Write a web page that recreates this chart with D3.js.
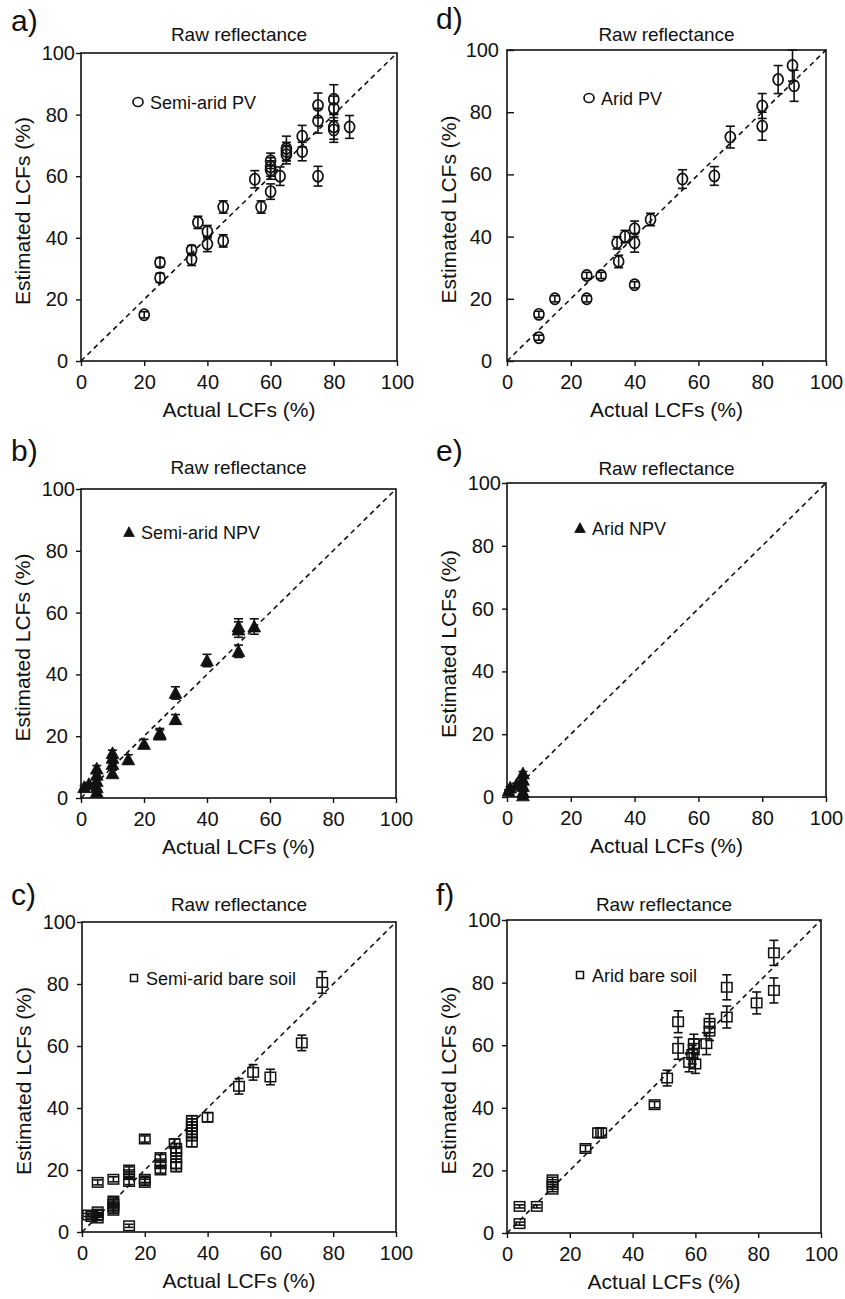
<!DOCTYPE html>
<html>
<head>
<meta charset="utf-8">
<script src="https://cdn.jsdelivr.net/npm/d3@7"></script>
<style>
  html, body { margin: 0; padding: 0; background: #fff; }
  svg { display: block; }
  text { font-family: "Liberation Sans", Arial, Helvetica, sans-serif; fill: #111; }
</style>
</head>
<body>
<svg id="chart" width="845" height="1299"></svg>
<script>
// ---------------- DATA ----------------
const tickValues = [0, 20, 40, 60, 80, 100];
const tickLabels = ["0", "20", "40", "60", "80", "100"];
const panelLetters = ["a)", "b)", "c)", "d)", "e)", "f)"];
const panelTitle = "Raw reflectance";
const xAxisTitle = "Actual LCFs (%)";
const yAxisTitle = "Estimated LCFs (%)";
const legendLabels = ["Semi-arid PV", "Semi-arid NPV", "Semi-arid bare soil", "Arid PV", "Arid NPV", "Arid bare soil"];

// a) Semi-arid PV
const aActual = [20, 25, 25, 35, 35, 37, 40, 40, 45, 45, 55, 57, 60, 60, 60, 60, 63, 65, 65, 65, 70, 70, 75, 75, 75, 80, 80, 80, 80, 85];
const aEst    = [15, 32, 27, 36, 33, 45, 42, 38, 50, 39, 59, 50, 55, 65, 63, 62, 60, 69, 68, 67, 73, 68, 83, 78, 60, 85, 82, 76, 75, 76];
const aErr    = [1, 1.5, 1.5, 1.5, 2, 2, 2, 2.5, 2, 2, 2.8, 2, 2.5, 2.5, 3, 3, 3, 4, 3, 3, 3.5, 3, 4, 4, 3.2, 4.7, 4, 4, 4, 3.7];

// b) Semi-arid NPV
const bActual = [1, 2.5, 5, 5, 5, 5, 5, 10, 10, 10, 10, 15, 20, 25, 25, 30, 30, 40, 50, 50, 50, 55];
const bEst    = [3.5, 4.5, 2, 3.5, 5.5, 7.5, 9.5, 8, 11, 13, 14.5, 12.5, 17.5, 20.5, 21, 25.5, 34, 44.5, 47.5, 54.5, 55.5, 55.5];
const bErr    = [0.5, 0.5, 0.5, 0.8, 0.8, 1, 1, 1, 1, 1, 1, 1.5, 1.5, 1.5, 1.5, 1.5, 2, 2, 2, 2.5, 2.5, 2.5];

// c) Semi-arid bare soil
const cActual = [2, 3, 5, 5, 5, 5, 10, 10, 10, 10, 10, 15, 15, 15, 15, 20, 20, 20, 25, 25, 25, 29.5, 30, 30, 30, 30, 30, 35, 35, 35, 35, 35, 35, 35, 40, 50, 54.5, 60, 70, 76.5];
const cEst    = [5.5, 5, 16, 6.5, 5.5, 4.5, 17, 10, 9, 8, 7, 20, 18.5, 16.3, 2, 30, 17, 16, 24, 22, 20, 28.5, 27, 26, 24, 22, 21, 36, 35, 34, 33, 32, 31, 29, 37, 47, 51.5, 50, 61, 80.5];
const cErr    = [0.5, 0.5, 0.8, 0.8, 0.8, 0.8, 0.8, 1, 1, 1, 1, 1, 1, 1, 0.5, 1, 1, 1, 1, 1, 1, 1.5, 1.5, 1.5, 1.5, 1.5, 1.5, 1.5, 1.5, 1.5, 1.5, 1.5, 1.5, 1.5, 1.5, 2.5, 2.5, 2.5, 2.5, 3.5];

// d) Arid PV
const dActual = [10, 10, 15, 25, 25, 29.5, 35, 34.5, 37, 40, 40, 40, 45, 55, 65, 70, 80, 80, 85, 89.5, 90];
const dEst    = [7.5, 15, 20, 20, 27.5, 27.5, 32, 38, 40, 42.5, 38, 24.5, 45.5, 58.5, 59.5, 72, 82, 75.5, 90.5, 95, 88.5];
const dErr    = [0.8, 1, 1, 1, 1, 1, 2, 2, 2, 2.5, 3, 1, 2, 3, 3, 3.5, 4, 4.5, 4.5, 5, 5];

// e) Arid NPV
const eActual = [0.5, 1, 3, 4, 5, 5, 5, 5, 5];
const eEst    = [2, 3, 4, 4, 7.5, 5.5, 3.5, 1.5, 0.5];
const eErr    = [0.3, 0.3, 0.4, 0.4, 0.6, 0.5, 0.5, 0.4, 0.3];

// f) Arid bare soil
const fActual = [4, 4, 9.5, 14.5, 14.5, 14.5, 25, 29, 30, 47, 51, 54.5, 54.5, 58, 59, 59.5, 59.5, 60, 63.5, 64.5, 64.5, 70, 70, 79.5, 85, 85];
const fEst    = [3, 8.5, 8.5, 17, 15.5, 14, 27, 32, 32, 41, 49.5, 67.5, 59, 54.5, 57, 59, 60.5, 54, 60.5, 67, 64.5, 78.5, 69, 73.5, 89.5, 77.5];
const fErr    = [0.5, 0.5, 0.5, 0.8, 0.8, 0.8, 1, 1.5, 1.5, 1, 2.5, 3.5, 3.5, 3, 3, 3, 3, 3, 3.5, 3, 3, 4, 3.5, 3.5, 4, 4];

// ---------------- LAYOUT ----------------
const panels = [
  { letter: panelLetters[0], legend: legendLabels[0], shape: "circle",   xs: aActual, ys: aEst, es: aErr,
    box: [81, 397, 53, 361], letterPos: [11, 31], titleY: 41, legendPos: [138, 102], yTickIn: false },
  { letter: panelLetters[1], legend: legendLabels[1], shape: "triangle", xs: bActual, ys: bEst, es: bErr,
    box: [81, 396, 489, 798], letterPos: [11, 461], titleY: 474, legendPos: [129, 532], yTickIn: false },
  { letter: panelLetters[2], legend: legendLabels[2], shape: "square",   xs: cActual, ys: cEst, es: cErr,
    box: [82, 396, 922, 1232], letterPos: [11, 905], titleY: 911, legendPos: [134, 978], yTickIn: false },
  { letter: panelLetters[3], legend: legendLabels[3], shape: "circle",   xs: dActual, ys: dEst, es: dErr,
    box: [507, 826, 50, 361], letterPos: [436, 29], titleY: 41, legendPos: [589, 98], yTickIn: true },
  { letter: panelLetters[4], legend: legendLabels[4], shape: "triangle", xs: eActual, ys: eEst, es: eErr,
    box: [507, 826, 483, 797], letterPos: [436, 461], titleY: 475, legendPos: [580, 528], yTickIn: false },
  { letter: panelLetters[5], legend: legendLabels[5], shape: "square",   xs: fActual, ys: fEst, es: fErr,
    box: [507, 821, 920, 1233], letterPos: [436, 905], titleY: 911, legendPos: [580, 975], yTickIn: false }
];

const svg = d3.select("#chart");
svg.append("rect").attr("width", 845).attr("height", 1299).attr("fill", "#fff");

function drawMarker(g, shape, cx, cy, legend) {
  if (shape === "circle") {
    g.append("ellipse").attr("cx", cx).attr("cy", cy)
      .attr("rx", 5).attr("ry", legend ? 4.5 : 5.6)
      .attr("fill", "none").attr("stroke", "#111").attr("stroke-width", 1.7);
  } else if (shape === "triangle") {
    const s = legend ? 5.3 : 6.4;
    g.append("path")
      .attr("d", `M${cx},${cy - s} L${cx + s},${cy + s * 0.85} L${cx - s},${cy + s * 0.85} Z`)
      .attr("fill", "#111").attr("stroke", "#111").attr("stroke-width", 0.8);
  } else {
    const w = legend ? 7 : 10.5, h = legend ? 7 : 9.5;
    g.append("rect").attr("x", cx - w / 2).attr("y", cy - h / 2)
      .attr("width", w).attr("height", h)
      .attr("fill", "none").attr("stroke", "#111").attr("stroke-width", 1.5);
  }
}

panels.forEach(p => {
  const [L, R, T, B] = p.box;
  const x = d3.scaleLinear().domain([0, 100]).range([L, R]);
  const y = d3.scaleLinear().domain([0, 100]).range([B, T]);
  const g = svg.append("g");

  g.append("text").attr("x", p.letterPos[0]).attr("y", p.letterPos[1])
    .attr("font-size", 30).text(p.letter);
  g.append("text").attr("x", (L + R) / 2).attr("y", p.titleY)
    .attr("text-anchor", "middle").attr("font-size", 19).text(panelTitle);

  const xAxis = d3.axisBottom(x).tickValues(tickValues).tickFormat((d, i) => tickLabels[i])
    .tickSizeInner(5).tickSizeOuter(0).tickPadding(9);
  const gx = g.append("g").attr("transform", `translate(0,${B})`).call(xAxis);
  gx.select(".domain").remove();
  gx.selectAll(".tick line").attr("stroke", "#111").attr("stroke-width", 1.4);
  gx.selectAll(".tick text").attr("font-size", 20).attr("fill", "#111")
    .attr("font-family", '"Liberation Sans", Arial, sans-serif');

  const yAxis = d3.axisLeft(y).tickValues(tickValues).tickFormat((d, i) => tickLabels[i])
    .tickSizeInner(p.yTickIn ? -7 : 5).tickSizeOuter(0).tickPadding(p.yTickIn ? 15 : 8);
  const gy = g.append("g").attr("transform", `translate(${L},0)`).call(yAxis);
  gy.select(".domain").remove();
  gy.selectAll(".tick line").attr("stroke", "#111").attr("stroke-width", 1.4);
  gy.selectAll(".tick text").attr("font-size", 20).attr("fill", "#111")
    .attr("font-family", '"Liberation Sans", Arial, sans-serif')
    .attr("dx", d => d === 100 ? 7 : 0);

  g.append("rect").attr("x", L).attr("y", T).attr("width", R - L).attr("height", B - T)
    .attr("fill", "none").attr("stroke", "#111").attr("stroke-width", 1.6);

  g.append("text").attr("x", (L + R) / 2).attr("y", B + 56)
    .attr("text-anchor", "middle").attr("font-size", 21).text(xAxisTitle);
  g.append("text")
    .attr("transform", `translate(${L - 51},${(T + B) / 2 + 4}) rotate(-90)`)
    .attr("text-anchor", "middle").attr("font-size", 21).text(yAxisTitle);

  g.append("line").attr("x1", x(0)).attr("y1", y(0)).attr("x2", x(100)).attr("y2", y(100))
    .attr("stroke", "#111").attr("stroke-width", 1.6).attr("stroke-dasharray", "5,4");

  const pts = p.xs.map((v, i) => ({ xv: v, yv: p.ys[i], ev: p.es[i] }));
  const gd = g.append("g");
  pts.forEach(d => {
    const cx = x(d.xv), cy = y(d.yv);
    const top = y(Math.min(100, d.yv + d.ev)), bot = y(d.yv - d.ev);
    gd.append("line").attr("x1", cx).attr("x2", cx).attr("y1", top).attr("y2", bot)
      .attr("stroke", "#111").attr("stroke-width", 1.6);
    [top, bot].forEach(yy => {
      gd.append("line").attr("x1", cx - 4.5).attr("x2", cx + 4.5).attr("y1", yy).attr("y2", yy)
        .attr("stroke", "#111").attr("stroke-width", 1.6);
    });
  });
  pts.forEach(d => drawMarker(gd, p.shape, x(d.xv), y(d.yv), false));

  drawMarker(g, p.shape, p.legendPos[0], p.legendPos[1], true);
  g.append("text").attr("x", p.legendPos[0] + 12).attr("y", p.legendPos[1] + 7)
    .attr("font-size", 18).text(p.legend);
});
</script>
</body>
</html>
